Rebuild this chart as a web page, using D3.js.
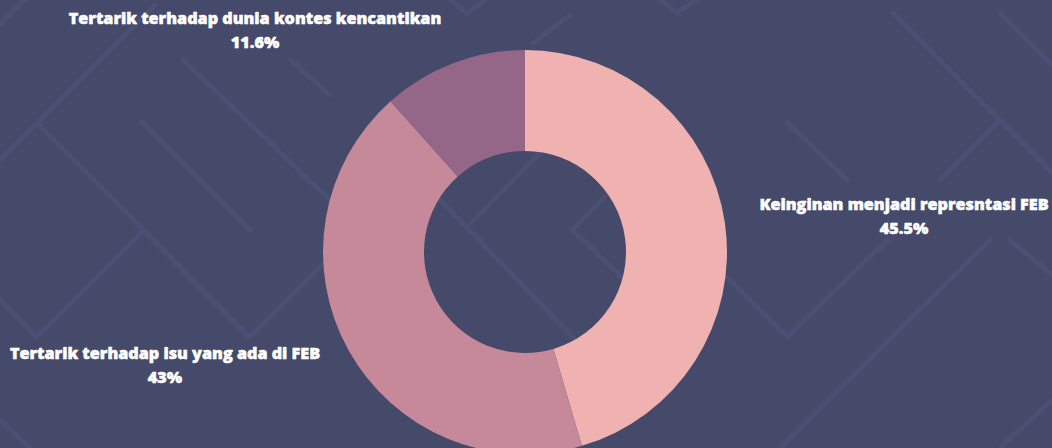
<!DOCTYPE html>
<meta charset="utf-8">
<style>
body { margin: 0; background: #454a6a; }
svg { display: block; }
.label { font-family: "Open Sans", sans-serif; font-weight: 800; font-size: 16.2px; fill: #fff; stroke: #fff; stroke-width: 0.5px; text-anchor: middle; }
</style>
<body></body>
<script src="https://cdnjs.cloudflare.com/ajax/libs/d3/7.8.5/d3.min.js"></script>
<script>
// data
var categories = ["Keinginan menjadi represntasi FEB", "Tertarik terhadap isu yang ada di FEB", "Tertarik terhadap dunia kontes kencantikan"];
var values = [45.5, 43, 11.6];
var valueLabels = ["45.5%", "43%", "11.6%"];
var colors = ["#f0b1b1", "#c5899a", "#946687"];

var width = 1052, height = 448;
var cx = 525, cy = 252, outerR = 202, innerR = 101;

// baseline of first line for each label
var labelPos = [[904, 210], [165, 359], [255, 24]];

// faint lattice in the background
var bg = [
  [[0,160],[155,5]], [[37,123],[250,337]], [[142,232],[37,337]], [[142,122],[250,230]],
  [[183,60],[330,200]], [[290,60],[330,95]], [[330,257],[250,337]], [[0,300],[37,337]],
  [[727,277],[787,337]], [[787,337],[887,240]], [[990,240],[780,448]], [[1010,240],[1052,275]],
  [[893,13],[1052,173]], [[1000,120],[940,180]], [[787,122],[847,180]], [[1000,13],[1052,65]],
  [[450,0],[467,13]], [[467,13],[485,0]], [[570,15],[533,43]], [[660,0],[677,13]], [[677,13],[695,0]],
  [[440,200],[573,337]], [[467,227],[540,153]], [[572,230],[625,280]], [[572,230],[605,197]],
  [[0,25],[25,0]], [[0,420],[30,448]], [[1000,448],[1052,400]]
];

var svg = d3.select("body").append("svg")
    .attr("width", width)
    .attr("height", height);

svg.append("rect").attr("width", width).attr("height", height).attr("fill", "#454a6a");

svg.append("g").selectAll("line")
    .data(bg)
    .enter().append("line")
    .attr("x1", function(d) { return d[0][0]; })
    .attr("y1", function(d) { return d[0][1]; })
    .attr("x2", function(d) { return d[1][0]; })
    .attr("y2", function(d) { return d[1][1]; })
    .attr("stroke", "#4a5073")
    .attr("stroke-width", 5)
    .attr("stroke-linecap", "round");

var pie = d3.pie().sort(null).value(function(d) { return d; });
var arc = d3.arc().innerRadius(innerR).outerRadius(outerR);

var g = svg.append("g").attr("transform", "translate(" + cx + "," + cy + ")");

g.selectAll("path")
    .data(pie(values))
    .enter().append("path")
    .attr("d", arc)
    .attr("fill", function(d, i) { return colors[i]; });

var labels = svg.append("g").selectAll("text")
    .data(categories)
    .enter().append("text")
    .attr("class", "label")
    .attr("transform", function(d, i) { return "translate(" + labelPos[i][0] + "," + labelPos[i][1] + ")"; });

labels.append("tspan").attr("x", 0).text(function(d) { return d; });
labels.append("tspan").attr("x", 0).attr("dy", 23.5).text(function(d, i) { return valueLabels[i]; });
</script>
